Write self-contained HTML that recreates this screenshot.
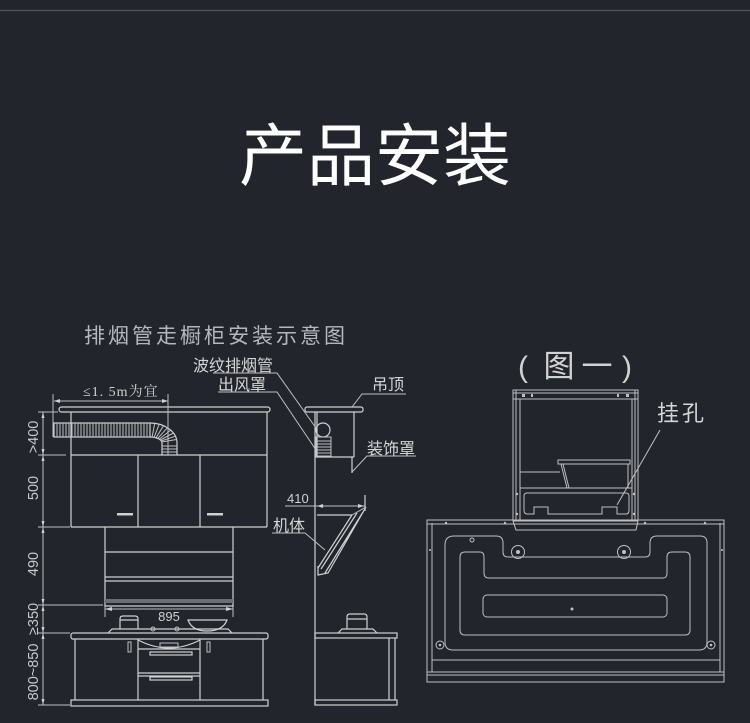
<!DOCTYPE html>
<html><head><meta charset="utf-8"><style>
html,body{margin:0;padding:0;background:#22252c;}
svg{display:block;}
.l{stroke:#cfd0d2;stroke-width:1.2;fill:none;}
.t{stroke:#bfc0c3;stroke-width:1;fill:none;}
.f{fill:#cfd0d2;}
.lab{font-family:"Liberation Sans","Noto Sans CJK SC",sans-serif;fill:#d6d6d6;font-size:16px;}
.num{font-family:"Liberation Sans","Noto Sans CJK SC",sans-serif;fill:#c8c9cb;font-size:14.5px;}
</style></head><body>
<svg width="750" height="723" viewBox="0 0 750 723" xmlns="http://www.w3.org/2000/svg">
<rect width="750" height="723" fill="#22252c"/>
<line x1="0" y1="10.5" x2="750" y2="10.5" stroke="#4d5057" stroke-width="1.5"/>

<text x="375" y="180" text-anchor="middle" font-family="'Noto Sans CJK SC',sans-serif" font-size="68" fill="#ffffff">产品安装</text>

<text x="84" y="343" font-family="'Noto Sans CJK SC',sans-serif" font-size="21" letter-spacing="3" fill="#b4b7bb">排烟管走橱柜安装示意图</text>

<!-- ===== LEFT FRONT VIEW ===== -->
<rect x="59" y="407" width="211" height="5" rx="2.5" class="l"/>
<path class="l" d="M71 412V527M267 412V527M71 455H267M71 527H267M138 455V527M200 455V527"/>
<rect x="117" y="513" width="16" height="2.5" class="f"/>
<rect x="207" y="513" width="16" height="2.5" class="f"/>

<!-- bellows duct -->
<rect x="54" y="423" width="96" height="14" class="l"/>
<path class="t" d="M57 423V437M60 423V437M63 423V437M66 423V437M69 423V437M72 423V437M75 423V437M78 423V437M81 423V437M84 423V437M87 423V437M90 423V437M93 423V437M96 423V437M99 423V437M102 423V437M105 423V437M108 423V437M111 423V437M114 423V437M117 423V437M120 423V437M123 423V437M126 423V437M129 423V437M132 423V437M135 423V437M138 423V437M141 423V437M144 423V437M147 423V437"/>
<path class="l" d="M150 423A27 20 0 0 1 177 443V455M150 437A12 6 0 0 1 162 443V455"/>
<path class="t" d="M152.1 437.1L154.7 423.3M154.1 437.4L159.2 424.2M156 437.8L163.5 425.7M157.7 438.4L167.4 427.7M159.2 439.1L170.7 430.1M160.4 440L173.4 433M161.3 441L175.4 436.2M161.8 442L176.6 439.5M162 446H177M162 449H177M162 452H177"/>

<!-- 1.5m dim -->
<path class="t" d="M53 394V437M168 394V455M54 401H168"/>
<path class="f" d="M54 401l6 -2v4zM168 401l-6 -2v4z"/>
<text x="83" y="396" font-family="'Liberation Serif','Noto Serif CJK SC',serif" font-size="14" letter-spacing="1" fill="#d0d0d0">≤1. 5m为宜</text>

<!-- left vertical dims -->
<path class="t" d="M43 412V705M38 412H58M38 455H66M38 527H70M38 605H103M38 633H70M38 705H70"/>
<path class="f" d="M43 412l-1.5 6h3zM43 455l-1.5 -6h3zM43 455l-1.5 6h3zM43 527l-1.5 -6h3zM43 527l-1.5 6h3zM43 605l-1.5 -6h3zM43 605l-1.5 6h3zM43 633l-1.5 -6h3zM43 633l-1.5 6h3zM43 705l-1.5 -6h3z"/>
<text class="num" transform="translate(38 437) rotate(-90)" text-anchor="middle">&gt;400</text>
<text class="num" transform="translate(38 488) rotate(-90)" text-anchor="middle">500</text>
<text class="num" transform="translate(38 564) rotate(-90)" text-anchor="middle">490</text>
<text class="num" transform="translate(38 619) rotate(-90)" text-anchor="middle">≥350</text>
<text class="num" transform="translate(38 672) rotate(-90)" text-anchor="middle">800~850</text>

<!-- hood front -->
<path class="l" d="M105 527V607M233 527V607M105 552H233M105 577H233M105 581H233M105 606H233"/>
<rect x="105" y="599" width="128" height="4" fill="#6b6e74"/>
<path class="t" d="M105 607V617M233 607V617M105 609H233"/>
<path class="f" d="M105 609l7 -2v4zM233 609l-7 -2v4z"/>
<text x="169" y="621" text-anchor="middle" font-family="'Liberation Sans',sans-serif" font-size="13" fill="#d0d0d0">895</text>
<!-- pot & bowl -->
<path class="l" d="M120 629V619Q120 616 123 616H135Q138 616 138 619V629M120 620H138"/>
<path class="l" d="M188 620H227Q223 631 207 631Q192 631 188 620Z"/>
<path class="l" d="M108 633L112 629H228L232 633"/>
<circle cx="153" cy="629" r="2" class="t"/><circle cx="177" cy="629" r="2" class="t"/>
<!-- lower cabinet -->
<rect x="71" y="633" width="197" height="6" rx="2" class="l"/>
<path class="l" d="M75 639V700M263 639V700M138 639V700M200 639V700M138 649H200M138 673H200M138 676H200"/>
<path class="l" d="M138 640Q169 656 200 640"/>
<rect x="160" y="643" width="18" height="4" class="t"/>
<rect x="150" y="652" width="42" height="3" class="l"/>
<rect x="150" y="677" width="42" height="3" class="l"/>
<rect x="128" y="642" width="3" height="10" class="t"/>
<rect x="207" y="642" width="3" height="10" class="t"/>
<rect x="71" y="700" width="197" height="6" class="l"/>

<!-- ===== SIDE VIEW ===== -->
<rect x="305" y="407" width="58" height="5" rx="2" class="l"/>
<path class="l" d="M315 412V705M317 412V457M354 412V457M315 457H354M352 457V473M365 495V511"/>
<circle cx="323" cy="430" r="7" class="l"/>
<rect x="316" y="437" width="15" height="19" class="t"/>
<path class="t" d="M316 441H331M316 444H331M316 447H331M316 450H331M316 453H331"/>
<path class="t" d="M285 506H365"/>
<path class="f" d="M317 506l6 -2v4zM364 506l-6 -2v4z"/>
<text x="287" y="503" font-family="'Liberation Sans',sans-serif" font-size="13" fill="#d0d0d0">410</text>
<!-- hood body side -->
<path class="l" d="M317 515H352M352 515L318 568M357 513L321 569M363 512L325 573M366 507L328 573L318 575V566"/>
<path class="t" d="M352 515L366 507"/>
<!-- side lower cabinet -->
<path class="l" d="M347 629V617Q347 614 350 614H364Q367 614 367 617V629M347 619H367"/>
<path class="l" d="M338 633L342 629H373L377 633"/>
<rect x="315" y="633" width="82" height="5" class="l"/>
<path class="l" d="M389 638V700M395 638V700"/>
<rect x="315" y="700" width="82" height="5" class="l"/>

<!-- labels & leaders -->
<text class="lab" x="193" y="371">波纹排烟管</text>
<path class="t" d="M213 373H277L316 428"/>
<text class="lab" x="218" y="390">出风罩</text>
<path class="t" d="M218 392H277L316 450"/>
<text class="lab" x="372" y="390">吊顶</text>
<path class="t" d="M406 394H362L352 407"/>
<text class="lab" x="367" y="454">装饰罩</text>
<path class="t" d="M416 456H367L352 472"/>
<text class="lab" x="273" y="531">机体</text>
<path class="t" d="M272 533H305L325 550"/>

<!-- ===== RIGHT (图一) ===== -->
<text x="518" y="377" font-family="'Liberation Sans',sans-serif" font-size="30" fill="#d2d2d2">(</text>
<text x="559" y="377" text-anchor="middle" font-family="'Noto Sans CJK SC',sans-serif" font-size="31" fill="#d2d2d2">图</text>
<text x="597" y="377" text-anchor="middle" font-family="'Noto Sans CJK SC',sans-serif" font-size="31" fill="#d2d2d2">一</text>
<text x="622" y="377" font-family="'Liberation Sans',sans-serif" font-size="30" fill="#d2d2d2">)</text>
<text x="657" y="421" font-family="'Noto Sans CJK SC',sans-serif" font-size="22" letter-spacing="3" fill="#d6d6d6">挂孔</text>
<path class="t" d="M660 430L617 505"/>

<!-- body -->
<rect x="427" y="520" width="297" height="162" class="t"/>
<path class="t" d="M432 523V672M720 523V672M427 524H724M432 660H720M427 672H724M427 675H724"/>
<g fill="#bfc0c3"><circle cx="446" cy="523" r="1.2"/><circle cx="505" cy="523" r="1.2"/><circle cx="645" cy="523" r="1.2"/><circle cx="705" cy="523" r="1.2"/><circle cx="430" cy="550" r="1"/><circle cx="722" cy="550" r="1"/></g>
<path class="t" d="M445 545Q445 536 454 536L496 536Q503 536 503 543L503 552Q503 557 508 557L645 557Q650 557 650 552L650 543Q650 536 657 536L700 536Q707 536 707 543L707 642Q707 650 699 650L453 650Q445 650 445 642Z"/>
<path class="t" d="M460 557Q460 552 465 552L480 552Q484 552 484 557L484 573Q484 578 489 578L663 578Q667 578 667 573L667 557Q667 552 672 552L685 552Q690 552 690 557L690 630Q690 635 685 635L465 635Q460 635 460 630Z"/>
<rect x="483" y="595" width="184" height="22" rx="4" class="t"/>
<circle cx="572" cy="609" r="1.5" fill="#bfc0c3"/>
<circle cx="518" cy="552" r="6.5" class="t"/><circle cx="518" cy="552" r="2" fill="#bfc0c3"/>
<circle cx="624" cy="552" r="6.5" class="t"/><circle cx="624" cy="552" r="2" fill="#bfc0c3"/>
<circle cx="440" cy="645" r="4" class="t"/><circle cx="440" cy="645" r="1.3" fill="#bfc0c3"/>
<circle cx="711" cy="645" r="4" class="t"/><circle cx="711" cy="645" r="1.3" fill="#bfc0c3"/>
<circle cx="472" cy="540" r="2" class="t"/>

<!-- upper box -->
<rect x="513" y="390" width="125" height="131" fill="#22252c" class="t"/>
<path class="t" d="M516 390V521M635 390V521M520 399V520M632 399V520M513 393H638M513 399H638M520 488H632M520 472H560"/>
<g fill="#bfc0c3"><rect x="522" y="394" width="3" height="3"/><rect x="531" y="394" width="2" height="3"/><rect x="617" y="394" width="2" height="3"/><rect x="626" y="394" width="3" height="3"/><circle cx="517" cy="494" r="1.2"/><circle cx="517" cy="514" r="1.2"/><circle cx="634" cy="494" r="1.2"/><circle cx="634" cy="514" r="1.2"/></g>
<rect x="558" y="460" width="72" height="4" class="t"/>
<path class="t" d="M561 464H628V488M561 464L567 488M563 464L569 488"/>
<path class="t" d="M527 493H626Q629 493 629 496V510Q629 514 626 514H617V507H602V514H548V507H534V514H527Q524 514 524 510V496Q524 493 527 493Z"/>
<path class="t" d="M513 521L516 530H636L638 521M513 521H638"/>
</svg>
</body></html>
